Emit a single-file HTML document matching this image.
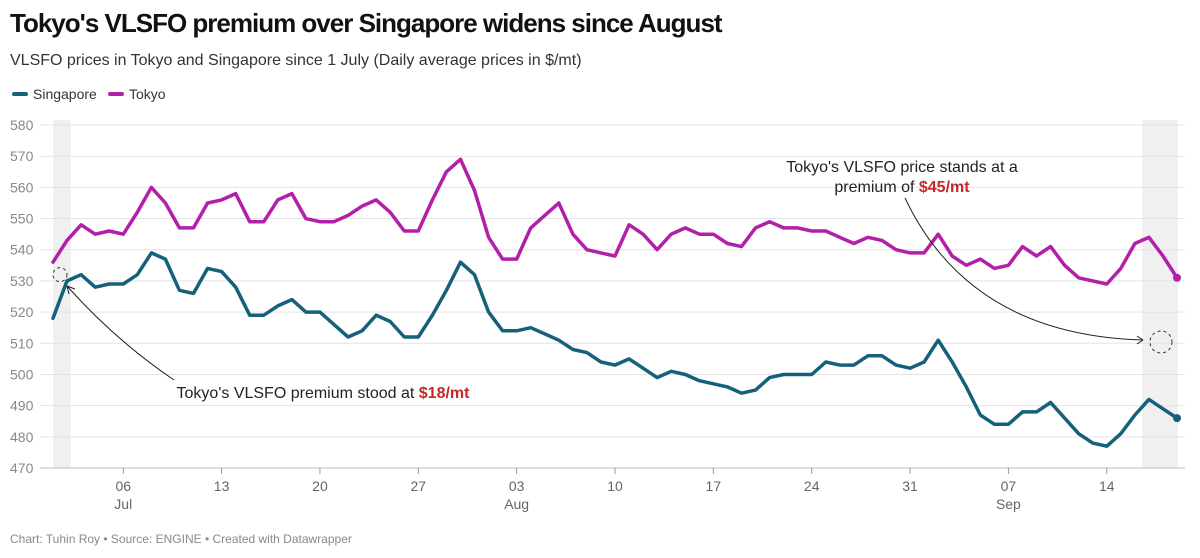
<!DOCTYPE html>
<html><head><meta charset="utf-8"><style>
body{margin:0;background:#fff;font-family:"Liberation Sans",Arial,sans-serif;}
#wrap{position:relative;width:1200px;height:558px;overflow:hidden}
h1{position:absolute;left:10px;top:8px;margin:0;font-size:26px;font-weight:bold;color:#111;letter-spacing:-1px}
.sub{position:absolute;left:10px;top:52px;font-size:16px;color:#333}
.leg{position:absolute;top:86px;font-size:14px;color:#333;display:flex;align-items:center}
.leg span{display:inline-block;width:16px;height:4px;border-radius:2px;margin-right:5px}
.foot{position:absolute;left:10px;top:532px;font-size:12px;color:#888}
</style></head><body><div id="wrap">
<h1>Tokyo's VLSFO premium over Singapore widens since August</h1>
<div class="sub">VLSFO prices in Tokyo and Singapore since 1 July (Daily average prices in $/mt)</div>
<div class="leg" style="left:12px"><span style="background:#15607a"></span>Singapore</div>
<div class="leg" style="left:108px"><span style="background:#b21fa8"></span>Tokyo</div>
<svg id="svg" width="1200" height="558" style="position:absolute;left:0;top:0"></svg>
<div class="foot">Chart: Tuhin Roy • Source: ENGINE • Created with Datawrapper</div>
</div>
<script>
const tokyo=[536,543,548,545,546,545,552,560,555,547,547,555,556,558,549,549,556,558,550,549,549,551,554,556,552,546,546,556,565,569,559,544,537,537,547,551,555,545,540,539,538,548,545,540,545,547,545,545,542,541,547,549,547,547,546,546,544,542,544,543,540,539,539,545,538,535,537,534,535,541,538,541,535,531,530,529,534,542,544,538,531];
const singapore=[518,530,532,528,529,529,532,539,537,527,526,534,533,528,519,519,522,524,520,520,516,512,514,519,517,512,512,519,527,536,532,520,514,514,515,513,511,508,507,504,503,505,502,499,501,500,498,497,496,494,495,499,500,500,500,504,503,503,506,506,503,502,504,511,504,496,487,484,484,488,488,491,486,481,478,477,481,487,492,489,486];
const yTicks=[470,480,490,500,510,520,530,540,550,560,570,580];
const xTickDays=[5,12,19,26,33,40,47,54,61,68,75];
const xTickLabels=["06","13","20","27","03","10","17","24","31","07","14"];
const xTickMonths={5:"Jul",33:"Aug",68:"Sep"};
const NS="http://www.w3.org/2000/svg",svg=document.getElementById('svg');
const x=d=>53+d*14.05, y=v=>468-(v-470)*3.118;
function mk(t,a,p){const e=document.createElementNS(NS,t);for(const k in a)e.setAttribute(k,a[k]);(p||svg).appendChild(e);return e;}
let r=mk('rect',{x:53,y:120,width:18,height:348,fill:'#f0f0f0'});

r=mk('rect',{x:1142,y:120,width:36,height:348,fill:'#f0f0f0'});

yTicks.forEach(v=>{
 const l=mk('line',{x1:40,x2:1185,y1:y(v),y2:y(v),stroke:v==470?'#bbb':'#e3e3e3','stroke-width':1});
 
 const t=mk('text',{x:10,y:y(v)+5,'font-size':14,fill:'#888'});t.textContent=v;
 
});
xTickDays.forEach((d,i)=>{
 const l=mk('line',{x1:x(d),x2:x(d),y1:468,y2:474,stroke:'#999'});
 
 const t=mk('text',{x:x(d),y:491,'font-size':14,fill:'#666','text-anchor':'middle'});t.textContent=xTickLabels[i];
 
 if(xTickMonths[d]){const m=mk('text',{x:x(d),y:509,'font-size':14,fill:'#666','text-anchor':'middle'});m.textContent=xTickMonths[d];
 }
});
function series(data,col,name){
 const p=mk('path',{d:data.map((v,i)=>(i?'L':'M')+x(i).toFixed(1)+','+y(v).toFixed(1)).join(''),fill:'none',stroke:col,'stroke-width':3.5,'stroke-linejoin':'round','stroke-linecap':'round'});
 
 const n=data.length-1;const c=mk('circle',{cx:x(n),cy:y(data[n]),r:4,fill:col});
 
}
series(singapore,'#15607a','singapore');series(tokyo,'#b21fa8','tokyo');
let c=mk('circle',{cx:60,cy:y(532),r:7,fill:'none',stroke:'#333','stroke-dasharray':'3,3'});

c=mk('circle',{cx:1161,cy:342,r:11,fill:'none',stroke:'#333','stroke-dasharray':'3,3'});

let a=mk('path',{d:'M174,380 Q115,340 67,286 M67,286 l2,8 M67,286 l8,3',fill:'none',stroke:'#222','stroke-width':1});

a=mk('path',{d:'M905,198 Q970,335 1143,340 M1143,340 l-6,-4 M1143,340 l-6,4',fill:'none',stroke:'#222','stroke-width':1});

let t=mk('text',{x:323,y:398,'font-size':16,fill:'#222','text-anchor':'middle'});
t.innerHTML='Tokyo\'s VLSFO premium stood at <tspan font-weight="bold" fill="#c62828">$18/mt</tspan>';

t=mk('text',{x:902,y:172,'font-size':16,fill:'#222','text-anchor':'middle'});
t.textContent='Tokyo\'s VLSFO price stands at a';

t=mk('text',{x:902,y:192,'font-size':16,fill:'#222','text-anchor':'middle'});
t.innerHTML='premium of <tspan font-weight="bold" fill="#c62828">$45/mt</tspan>';

</script></body></html>
